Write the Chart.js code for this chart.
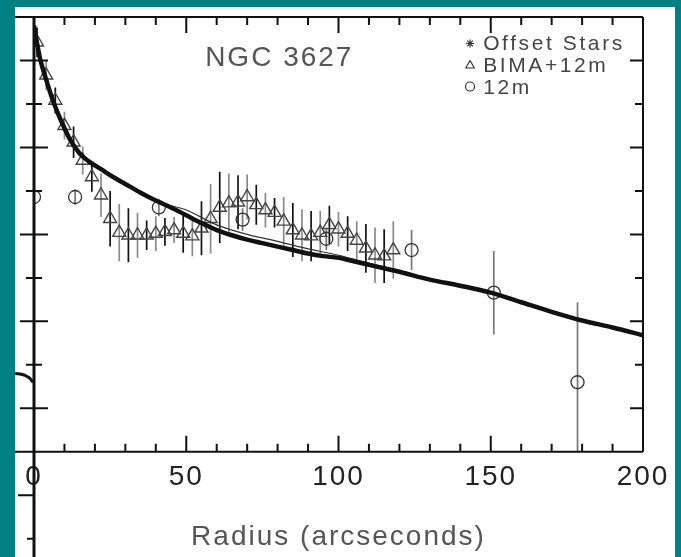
<!DOCTYPE html>
<html>
<head>
<meta charset="utf-8">
<script src="https://cdn.jsdelivr.net/npm/chart.js@4.4.1/dist/chart.umd.min.js"></script>
<style>
  html, body { margin: 0; padding: 0; background: #008080; }
  #wrap { position: relative; width: 681px; height: 557px; overflow: hidden; }
  #paper { position: absolute; left: 15px; top: 7px; width: 660px; height: 550px; background: #fff; }
  #chartBox { position: absolute; left: 0; top: 0; width: 681px; height: 557px; }
</style>
</head>
<body>
<div id="wrap">
  <div id="paper"></div>
  <div id="chartBox"><canvas id="profileChart"></canvas></div>
</div>
<script>
// radius in arcseconds; profile in axis units (one major y tick = 1, no labels on the scan)
const starsRadius = [0, 1, 2, 4, 6, 8, 10, 12, 15, 18, 22, 26, 30, 35, 40, 45, 50, 55, 60, 65, 70, 75, 80, 85, 90, 95, 100, 105, 110, 115, 120, 130, 140, 150, 160, 170, 180, 190, 200];
const starsValue = [4.4, 4.2, 4.02, 3.78, 3.56, 3.38, 3.22, 3.08, 2.93, 2.84, 2.75, 2.66, 2.58, 2.48, 2.39, 2.31, 2.22, 2.13, 2.05, 1.99, 1.94, 1.9, 1.86, 1.82, 1.78, 1.75, 1.73, 1.69, 1.65, 1.61, 1.57, 1.48, 1.41, 1.33, 1.22, 1.11, 1.01, 0.93, 0.84];

// second (thin) star profile running just above the thick one
const thinRadius = [45, 50, 60, 70, 80, 88, 100, 110, 118];
const thinValue = [2.33, 2.28, 2.11, 2.0, 1.92, 1.85, 1.76, 1.67, 1.6];

const bimaRadius = [1, 4, 7, 10, 13, 16, 19, 22, 25, 28, 31, 34, 37, 40, 43, 46, 49, 52, 55, 58, 61, 64, 67, 70, 73, 76, 79, 82, 85, 88, 91, 94, 97, 100, 103, 106, 109, 112, 115, 118];
const bimaValue = [4.21, 3.83, 3.54, 3.25, 3.06, 2.85, 2.66, 2.45, 2.18, 2.02, 1.99, 1.99, 1.99, 2.01, 2.03, 2.05, 2.01, 1.98, 2.07, 2.18, 2.31, 2.36, 2.37, 2.43, 2.34, 2.28, 2.25, 2.15, 2.05, 1.99, 1.98, 2.02, 2.11, 2.06, 2.01, 1.93, 1.84, 1.76, 1.75, 1.82];
const bimaErr = [0.17, 0.17, 0.15, 0.16, 0.18, 0.16, 0.17, 0.25, 0.32, 0.33, 0.31, 0.26, 0.17, 0.2, 0.16, 0.15, 0.22, 0.23, 0.31, 0.4, 0.41, 0.34, 0.31, 0.26, 0.23, 0.2, 0.17, 0.28, 0.31, 0.3, 0.29, 0.25, 0.22, 0.2, 0.2, 0.22, 0.28, 0.32, 0.31, 0.33];

const singleDishRadius = [0, 13.5, 41, 68.5, 96, 124, 151, 178.5];
const singleDishValue = [2.43, 2.43, 2.31, 2.17, 1.95, 1.82, 1.33, 0.30];
const singleDishErr = [0.09, 0.09, 0.1, 0.13, 0.13, 0.23, 0.48, 0.92];

// end of the neighbouring panel's curve poking in at the left edge
const stubRadius = [-6.2, -4.5, -3, -1.5, -0.3];
const stubValue = [0.40, 0.395, 0.38, 0.35, 0.30];

const xLabelTicks = [0, 50, 100, 150, 200];
const xMinorTicks = [10, 20, 30, 40, 60, 70, 80, 90, 110, 120, 130, 140, 160, 170, 180, 190];
const yMajorTicks = [0, 1, 2, 3, 4];
const yMinorTicks = [0.5, 1.5, 2.5, 3.5];
const yLowerMajor = [-1];
const yLowerMinor = [-1.5];

const legendItems = ['Offset Stars', 'BIMA+12m', '12m'];

const FONT = 'Liberation Sans';

function toPoints(xs, ys) {
    return xs.map((r, i) => ({ x: r, y: ys[i] }));
}

const spacingPlugin = {
    id: 'spacing',
    beforeDraw(chart) {
        chart.ctx.letterSpacing = '2px';
    }
};

const errorBarPlugin = {
    id: 'errorBars',
    beforeDatasetsDraw(chart) {
        const { ctx, chartArea: a, scales: { x, y } } = chart;
        ctx.save();
        ctx.beginPath();
        ctx.rect(a.left, a.top, a.right - a.left, a.bottom - a.top);
        ctx.clip();
        chart.data.datasets.forEach(ds => {
            if (!ds.errorBars) return;
            ds.data.forEach((p, i) => {
                const e = ds.errorBars[i];
                const px = x.getPixelForValue(p.x);
                ctx.strokeStyle = ds.barColors[i % ds.barColors.length];
                ctx.lineWidth = 1.7;
                ctx.beginPath();
                ctx.moveTo(px, y.getPixelForValue(p.y + e));
                ctx.lineTo(px, y.getPixelForValue(p.y - e));
                ctx.stroke();
            });
        });
        ctx.restore();
    }
};

const framePlugin = {
    id: 'frame',
    afterDraw(chart) {
        const { ctx, chartArea: a, scales: { x, y } } = chart;
        ctx.save();
        ctx.strokeStyle = '#111';
        ctx.lineWidth = 2;
        ctx.beginPath();
        ctx.moveTo(15, a.top); ctx.lineTo(a.right, a.top);
        ctx.moveTo(15, a.bottom); ctx.lineTo(a.right, a.bottom);
        ctx.moveTo(a.right, a.top); ctx.lineTo(a.right, a.bottom);
        // x ticks, top and bottom, pointing inward
        xLabelTicks.concat(xMinorTicks).forEach(v => {
            const px = x.getPixelForValue(v);
            const len = xLabelTicks.includes(v) ? 16 : 8;
            ctx.moveTo(px, a.top); ctx.lineTo(px, a.top + len);
            ctx.moveTo(px, a.bottom); ctx.lineTo(px, a.bottom - len);
        });
        // y ticks: crossing on the left, inward on the right
        yMajorTicks.concat(yMinorTicks).forEach(v => {
            const py = y.getPixelForValue(v);
            const major = yMajorTicks.includes(v);
            const half = major ? 14 : 8;
            ctx.moveTo(a.left - half, py); ctx.lineTo(a.left + half, py);
            ctx.moveTo(a.right, py); ctx.lineTo(a.right - (major ? 13 : 8), py);
        });
        yLowerMajor.concat(yLowerMinor).forEach(v => {
            const py = y.getPixelForValue(v);
            ctx.moveTo(a.left - (yLowerMajor.includes(v) ? 16 : 7), py); ctx.lineTo(a.left, py);
        });
        ctx.stroke();
        ctx.lineWidth = 3;
        ctx.beginPath();
        ctx.moveTo(a.left, a.top); ctx.lineTo(a.left, chart.height);
        ctx.stroke();

        // neighbouring panel's curve, left of the axis
        ctx.lineWidth = 3;
        ctx.lineJoin = 'round';
        ctx.beginPath();
        stubRadius.forEach((r, i) => {
            const px = x.getPixelForValue(r), py = y.getPixelForValue(stubValue[i]);
            if (i === 0) ctx.moveTo(px, py); else ctx.lineTo(px, py);
        });
        ctx.stroke();

        // title inside the frame
        ctx.letterSpacing = '2px';
        ctx.fillStyle = '#555';
        ctx.font = `28px "${FONT}"`;
        ctx.textAlign = 'left';
        ctx.textBaseline = 'alphabetic';
        ctx.fillText('NGC 3627', x.getPixelForValue(56.2), y.getPixelForValue(3.94));

        // legend
        const lx = x.getPixelForValue(147.5);
        const sx = x.getPixelForValue(143.2);
        const rows = [4.115, 3.862, 3.62];
        const marks = [
            { pointStyle: 'star', radius: 4, borderWidth: 1.2 },
            { pointStyle: 'triangle', radius: 5, borderWidth: 1.2 },
            { pointStyle: 'circle', radius: 4.5, borderWidth: 1.2 }
        ];
        ctx.font = `21px "${FONT}"`;
        ctx.letterSpacing = '2.6px';
        legendItems.forEach((label, i) => {
            const by = y.getPixelForValue(rows[i]);
            ctx.fillStyle = '#444';
            ctx.fillText(label, lx, by);
            ctx.strokeStyle = '#333';
            ctx.fillStyle = 'rgba(0,0,0,0)';
            ctx.lineWidth = 1.2;
            Chart.helpers.drawPoint(ctx, marks[i], sx, by - 7);
        });
        ctx.restore();
    }
};

new Chart(document.getElementById('profileChart'), {
    type: 'scatter',
    data: {
        datasets: [
            {
                label: 'Offset Stars',
                data: toPoints(starsRadius, starsValue),
                showLine: true,
                borderColor: '#111',
                borderWidth: 4.5,
                pointRadius: 0,
                cubicInterpolationMode: 'monotone'
            },
            {
                label: 'Offset Stars (second)',
                data: toPoints(thinRadius, thinValue),
                showLine: true,
                borderColor: '#333',
                borderWidth: 1.2,
                pointRadius: 0,
                cubicInterpolationMode: 'monotone'
            },
            {
                label: 'BIMA+12m',
                data: toPoints(bimaRadius, bimaValue),
                errorBars: bimaErr,
                barColors: ['#111', '#8a8a8a'],
                pointStyle: 'triangle',
                pointRadius: 7.5,
                borderColor: '#444',
                backgroundColor: 'rgba(0,0,0,0)',
                pointBorderWidth: 1.4
            },
            {
                label: '12m',
                data: toPoints(singleDishRadius, singleDishValue),
                errorBars: singleDishErr,
                barColors: ['#777'],
                pointStyle: 'circle',
                pointRadius: 6.5,
                borderColor: '#333',
                backgroundColor: 'rgba(0,0,0,0)',
                pointBorderWidth: 1.3
            }
        ]
    },
    options: {
        responsive: true,
        maintainAspectRatio: false,
        animation: false,
        layout: { padding: { left: 34, right: 38, top: 17, bottom: 3 } },
        plugins: {
            legend: { display: false },
            tooltip: { enabled: false }
        },
        scales: {
            x: {
                type: 'linear',
                min: 0,
                max: 200,
                afterBuildTicks: s => { s.ticks = xLabelTicks.map(v => ({ value: v })); },
                grid: { display: false, drawTicks: false },
                border: { display: false },
                ticks: {
                    color: '#222',
                    font: { family: FONT, size: 28 },
                    padding: 9,
                    maxRotation: 0,
                    autoSkip: false
                },
                title: {
                    display: true,
                    text: 'Radius (arcseconds)',
                    color: '#555',
                    font: { family: FONT, size: 28 },
                    padding: { top: 17, bottom: 0 }
                }
            },
            y: {
                type: 'linear',
                min: -0.5,
                max: 4.5,
                display: false
            }
        }
    },
    plugins: [spacingPlugin, errorBarPlugin, framePlugin]
});
</script>
</body>
</html>
